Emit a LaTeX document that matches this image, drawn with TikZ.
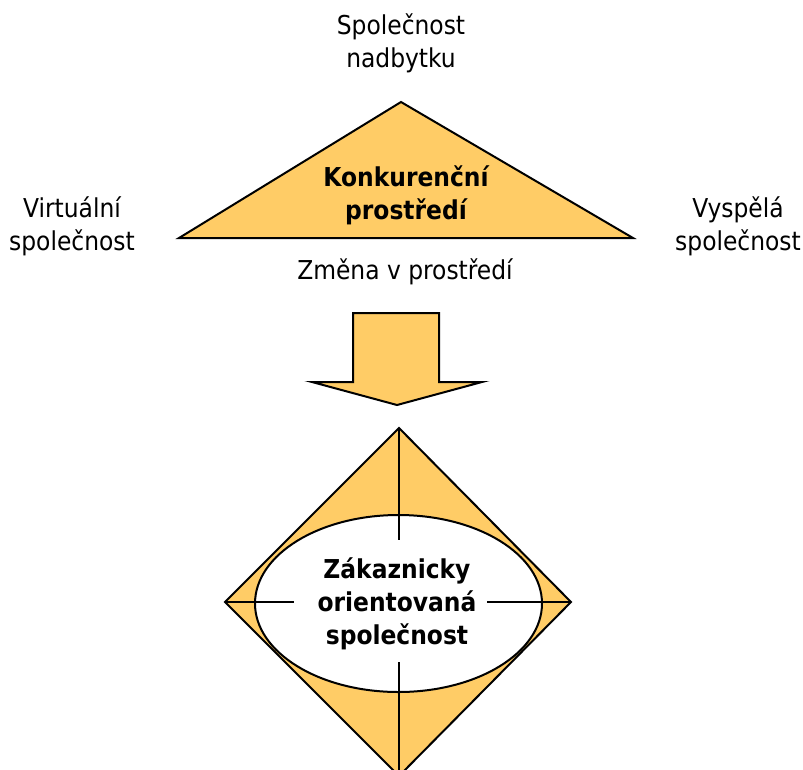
\documentclass[tikz,border=0pt]{standalone}
\usepackage{fontspec}
\setmainfont{DejaVu Sans Condensed}
\definecolor{gold}{RGB}{255,204,102}
\begin{document}
\begin{tikzpicture}[x=1pt,y=-1pt,
  outline/.style={draw=black,line width=2pt,line join=miter},
  lbl/.style={align=center,font=\fontsize{26}{33}\selectfont,inner sep=0pt},
  boldlbl/.style={lbl,font=\fontsize{26}{33}\selectfont\bfseries}]
\useasboundingbox (0,0) rectangle (803,769);

% triangle: competitive environment
\coordinate (tA) at (401,102);
\coordinate (tL) at (179,238);
\coordinate (tR) at (633,238);
\filldraw[outline,fill=gold] (tA) -- (tR) -- (tL) -- cycle;
\node[boldlbl] (konk) at (406,195) {Konkurenční\\prostředí};

\node[lbl] (nadb) at (401,43) {Společnost\\nadbytku};
\node[lbl] (virt) at (72,226) {Virtuální\\společnost};
\node[lbl] (vysp) at (738,226) {Vyspělá\\společnost};
\node[lbl] (zmena) at (405,272) {Změna v prostředí};

% block arrow pointing down
\filldraw[outline,fill=gold] (353,313) -- (439,313) -- (439,382) -- (482,382)
  -- (397,405) -- (312,382) -- (353,382) -- cycle;

% diamond with ellipse
\coordinate (dT) at (399,428);
\coordinate (dL) at (225,602);
\coordinate (dR) at (571,602);
\coordinate (dB) at (399,776);
\filldraw[outline,fill=gold] (dT) -- (dR) -- (dB) -- (dL) -- cycle;
\filldraw[outline,fill=white] (398.5,603.5) ellipse [x radius=143.5,y radius=88.5];
\node[boldlbl] (zak) at (397,604) {Zákaznicky\\orientovaná\\společnost};

% cross lines from the corners
\coordinate (cT) at (399,540);
\coordinate (cB) at (399,662);
\coordinate (cL) at (294,602);
\coordinate (cR) at (487,602);
\draw[line width=1.5pt] (dT) -- (cT);
\draw[line width=1.5pt] (cB) -- (dB);
\draw[line width=1.5pt] (dL) -- (cL);
\draw[line width=1.5pt] (cR) -- (dR);
\end{tikzpicture}
\end{document}
